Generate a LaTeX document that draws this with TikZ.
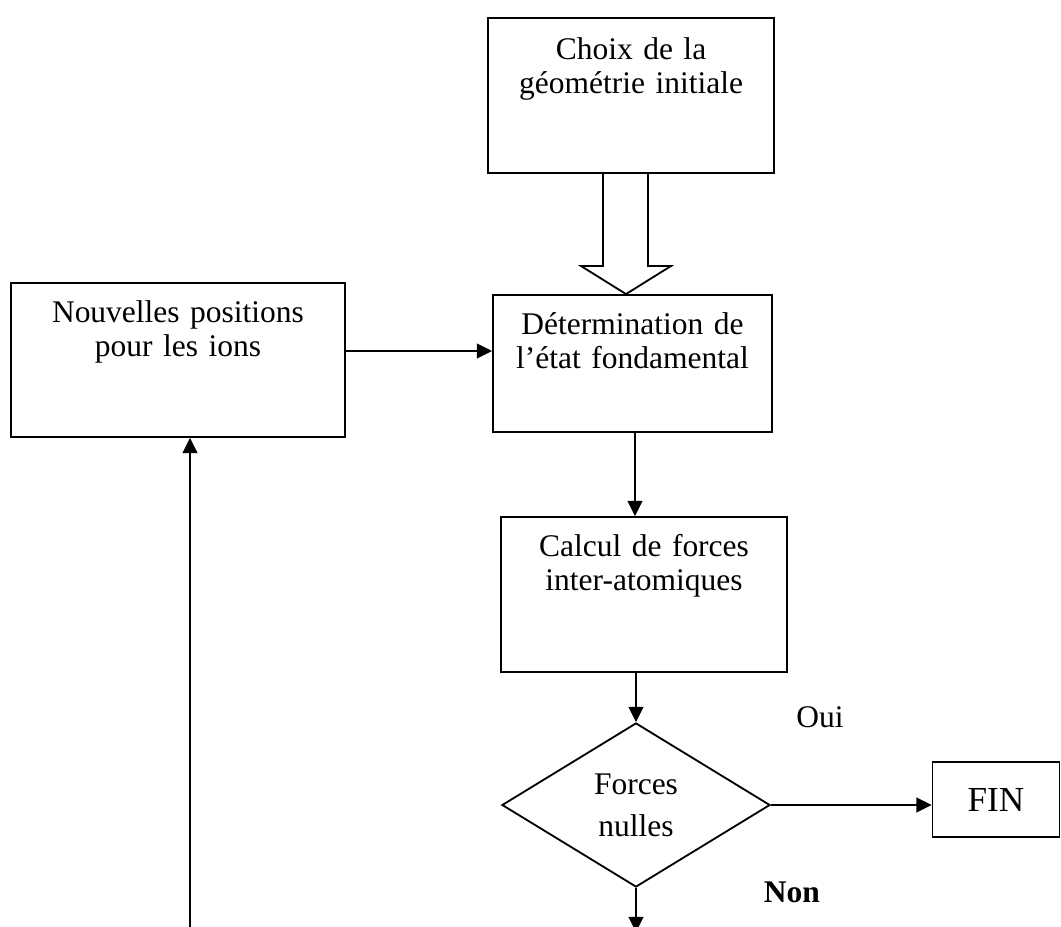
\documentclass[tikz,border=0pt]{standalone}
\usepackage{fontspec}
\setmainfont{Liberation Serif}
\usetikzlibrary{arrows.meta, shapes.geometric}

\begin{document}
\begin{tikzpicture}[x=0.025cm, y=-0.025cm]
    \tikzstyle{box}=[draw,line width=1.3pt,rectangle,inner sep=0pt,align=center,font=\fontsize{22.4}{23.5}\selectfont]
    \tikzstyle{decision}=[draw,line width=1.3pt,diamond,inner sep=0pt,align=center,minimum width=6.7cm,minimum height=4.1cm,font=\fontsize{22.4}{29.9}\selectfont]
    \tikzstyle{lbl}=[font=\fontsize{22.4}{23.5}\selectfont]
    \tikzstyle{edge} = [draw,line width=1.4pt,-{Triangle[length=0.38cm,width=0.37cm]}]
    \tikzstyle{hollow} = [draw,line width=1.3pt,line join=miter]

    \useasboundingbox (0,0) rectangle (1061,927);
    \clip (0,0) rectangle (1061,927);

    \node[box,text width=7.15cm,text height=1.05cm,text depth=2.825cm] (init) at (631,95.5) {Choix de la\\géométrie initiale};
    \node[box,text width=6.975cm,text height=1cm,text depth=2.425cm] (det) at (632.5,363.5) {Détermination de\\l’état fondamental};
    \node[box,text width=8.35cm,text height=1cm,text depth=2.85cm] (newpos) at (178,360) {Nouvelles positions\\pour les ions};
    \node[box,text width=7.15cm,text height=1cm,text depth=2.875cm] (calc) at (644,594.5) {Calcul de forces\\inter-atomiques};
    \node[decision] (dec) at (636,805) {Forces\\nulles};
    \node[draw,line width=1.3pt,minimum width=3.175cm,minimum height=1.875cm,inner sep=0pt,font=\fontsize{25}{28}\selectfont] (fin) at (996,799.5) {FIN};

    \node[lbl] (oui) at (820,717) {Oui};
    \node[lbl] (non) at (792,892) {\textbf{Non}};

    \coordinate (down) at (636,932);
    \coordinate (back) at (190,930);

    % big hollow arrow
    \draw[hollow] (init.south -| 603,0) -- (603,266) -- (581,266) -- (det.north -| 626,0)
        -- (671,266) -- (648,266) -- (init.south -| 648,0);

    \path[edge] (newpos.east |- 0,351) -- (det.west |- 0,351);
    \path[edge] (det.south -| 635,0) -- (calc.north -| 635,0);
    \path[edge] (calc.south -| dec.north) -- (dec.north);
    \path[edge] (dec.east) -- (fin.west |- dec.east);
    \path[edge] (dec.south) -- (down);
    \path[edge] (back) -- (newpos.south -| back);

\end{tikzpicture}
\end{document}
